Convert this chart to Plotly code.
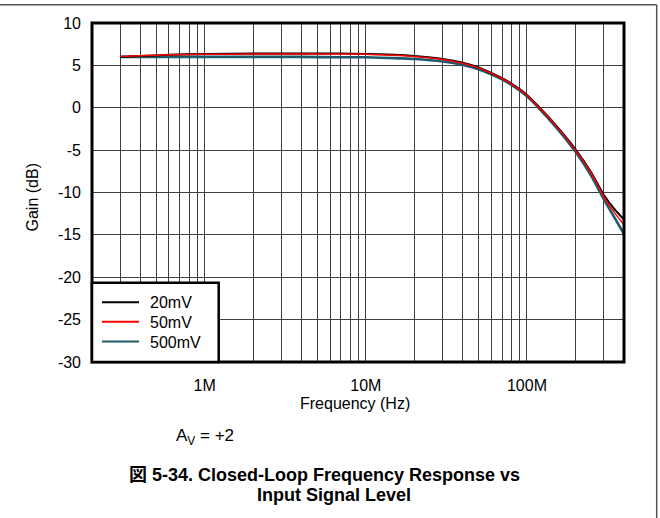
import math
import plotly.graph_objects as go

# ---- measured closed-loop gain (dB) vs frequency (Hz), A_V = +2 ----
freq_hz = [3e5, 4e5, 6e5, 1e6, 2e6, 4e6, 7e6, 1e7, 1.5e7, 2e7, 3e7, 4e7, 5e7,
           6e7, 7e7, 8e7, 9e7, 1e8, 1.2e8, 1.5e8, 2e8, 2.5e8, 3e8, 3.5e8, 4e8]
gain_20mv = [6.0, 6.1, 6.25, 6.35, 6.4, 6.4, 6.4, 6.35, 6.25, 6.1, 5.75, 5.3, 4.75,
             4.1, 3.5, 2.85, 2.2, 1.5, 0.0, -2.0, -4.9, -7.6, -10.3, -12.0, -13.2]
gain_50mv = [6.05, 6.15, 6.25, 6.3, 6.35, 6.35, 6.35, 6.3, 6.2, 6.05, 5.7, 5.25, 4.7,
             4.05, 3.45, 2.8, 2.15, 1.45, -0.05, -2.05, -5.0, -7.7, -10.5, -12.4, -13.8]
gain_500mv = [6.0, 6.0, 6.0, 6.0, 6.0, 6.0, 5.95, 5.95, 5.85, 5.75, 5.45, 5.05, 4.55,
              3.95, 3.35, 2.7, 2.05, 1.35, -0.15, -2.2, -5.2, -8.0, -10.8, -13.0, -14.9]

series_names = ["20mV", "50mV", "500mV"]
series_colors = ["#000000", "#ff0000", "#1d5b6b"]
series_widths = [2, 1.5, 2.6]

x_range_hz = (2e5, 4e8)
decade_labels = {1e6: "1M", 1e7: "10M", 1e8: "100M"}
y_range_db = (-30, 10)
y_ticks = [-30, -25, -20, -15, -10, -5, 0, 5, 10]

FONT = "Liberation Sans, Arial, Helvetica, Noto Sans CJK JP, sans-serif"

# plot-area geometry in pixels (used to place decorations in paper coords)
W, H = 660, 518
PL, PR, PT, PB = 92, 624, 23, 362


def px_x(px):
    return (px - PL) / (PR - PL)


def px_y(py):
    return (PB - py) / (PB - PT)


# log-axis grid: labelled decades plus every 2..9 multiple as minor grid
major_vals = [v for v in decade_labels if x_range_hz[0] <= v <= x_range_hz[1]]
minor_vals = []
for exp in range(5, 9):
    for k in range(2, 10):
        v = k * 10 ** exp
        if x_range_hz[0] <= v <= x_range_hz[1]:
            minor_vals.append(v)

fig = go.Figure()

# teal drawn first so the thinner traces sit on top of it
draw_order = [2, 0, 1]
all_gains = [gain_20mv, gain_50mv, gain_500mv]
for i in draw_order:
    fig.add_trace(go.Scatter(
        x=freq_hz, y=all_gains[i], mode="lines", name=series_names[i],
        line=dict(color=series_colors[i], width=series_widths[i], shape="spline",
                  smoothing=0.5),
        showlegend=False,
    ))

fig.update_layout(
    width=W, height=H,
    margin=dict(l=PL, r=W - PR, t=PT, b=H - PB, pad=0),
    paper_bgcolor="white", plot_bgcolor="white",
    font=dict(family=FONT, size=16, color="#000000"),
    showlegend=False,
)

GRID = "#404040"
fig.update_xaxes(
    type="log", range=[math.log10(x_range_hz[0]), math.log10(x_range_hz[1])],
    tickmode="array", tickvals=major_vals,
    ticktext=[decade_labels[v] for v in major_vals],
    showgrid=True, gridcolor=GRID, gridwidth=1,
    minor=dict(tickmode="array", tickvals=minor_vals, showgrid=True,
               gridcolor=GRID, gridwidth=1, ticks=""),
    showline=False, ticks="", zeroline=False,
    tickfont=dict(size=16), ticklabelstandoff=12,
)
fig.update_yaxes(
    range=list(y_range_db), tickmode="array", tickvals=y_ticks,
    ticktext=[str(v) for v in y_ticks],
    showgrid=True, gridcolor=GRID, gridwidth=1,
    showline=False, ticks="", zeroline=False,
    tickfont=dict(size=16), ticklabelstandoff=10,
)

shapes = [
    # heavy plot frame
    dict(type="rect", xref="paper", yref="paper", x0=0, x1=1, y0=0, y1=1,
         line=dict(color="#000000", width=3), layer="above"),
    # legend box
    dict(type="rect", xref="paper", yref="paper", x0=0, x1=px_x(218.7),
         y0=0, y1=px_y(282.8), fillcolor="white",
         line=dict(color="#000000", width=2.5), layer="above"),
    # page frame lines
    dict(type="line", xref="paper", yref="paper", x0=px_x(0), x1=px_x(656.7),
         y0=px_y(4.7), y1=px_y(4.7), line=dict(color="#555555", width=1.5)),
    dict(type="line", xref="paper", yref="paper", x0=px_x(656.7), x1=px_x(656.7),
         y0=px_y(4.7), y1=px_y(H), line=dict(color="#555555", width=1.5)),
]

annotations = [
    dict(text="Frequency (Hz)", x=px_x(355), y=px_y(403), font=dict(size=16)),
    dict(text="Gain (dB)", x=px_x(32), y=px_y(197.5), textangle=-90, font=dict(size=16)),
    dict(text="A<sub>V</sub> = +2", x=px_x(205), y=px_y(437), font=dict(size=17)),
    dict(text="<b>図 5-34. Closed-Loop Frequency Response vs</b>",
         x=px_x(324), y=px_y(475), font=dict(size=18)),
    dict(text="<b>Input Signal Level</b>", x=px_x(333.5), y=px_y(495), font=dict(size=18)),
]

# legend entries: short line sample plus series name, stacked inside the box
legend_rows_y = [302.3, 321.8, 341.5]
for name, color, row_y in zip(series_names, series_colors, legend_rows_y):
    shapes.append(dict(type="line", xref="paper", yref="paper",
                       x0=px_x(102), x1=px_x(139), y0=px_y(row_y), y1=px_y(row_y),
                       line=dict(color=color, width=2), layer="above"))
    annotations.append(dict(text=name, x=px_x(148), y=px_y(row_y + 0.5),
                            xanchor="left", font=dict(size=16)))

for a in annotations:
    a.update(xref="paper", yref="paper", showarrow=False, yanchor="middle")
    a.setdefault("xanchor", "center")
    a["font"] = dict(family=FONT, color="#000000", **a["font"])

fig.update_layout(shapes=shapes, annotations=annotations)

fig.write_html("out.html")
